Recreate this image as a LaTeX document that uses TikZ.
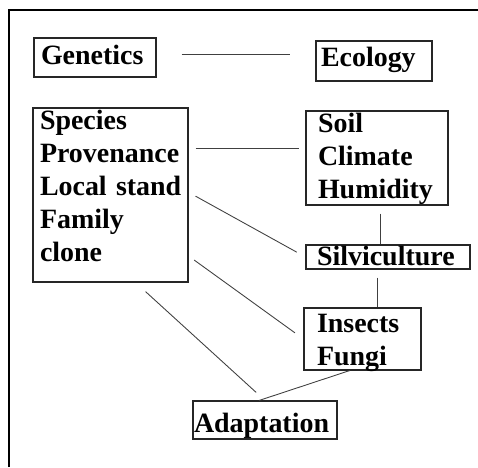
\documentclass[tikz,border=0pt]{standalone}
\usepackage{fontspec}
\setmainfont{Liberation Serif}
\usepackage{tikz}

\begin{document}
\begin{tikzpicture}[
    factor/.style={draw=black!85, line width=0.6pt, inner ysep=0pt, align=left,
      font=\bfseries\fontsize{15.9pt}{18.8pt}\selectfont},
    link/.style={draw=black!75, line width=0.5pt}]
        \useasboundingbox (0, 0) rectangle (9.56, 9.34);
        \draw[line width=0.6pt] (0.18, 0) |- (9.56, 9.14);

        \node[factor, inner xsep=0.14cm, text width=2.16cm, text height=0.52cm, text depth=0.26cm]
          (genetics) at (1.90, 8.19) {Genetics};
        \node[factor, inner xsep=0.10cm, text width=2.12cm, text height=0.50cm, text depth=0.30cm]
          (ecology) at (7.48, 8.12) {Ecology};

        \node[factor, inner xsep=0.14cm, text width=2.82cm, text height=0.42cm, text depth=3.06cm]
          (genotype) at (2.21, 5.44) {Species\\Provenance\\Local~stand\\Family\\clone};
        \node[factor, inner xsep=0.24cm, text width=2.36cm, text height=0.42cm, text depth=1.46cm]
          (site) at (7.54, 6.18) {Soil\\Climate\\Humidity};

        \node[factor, inner xsep=0.22cm, text width=2.84cm, text height=0.40cm, text depth=0.08cm]
          (silviculture) at (7.76, 4.20) {Silviculture};
        \node[factor, inner xsep=0.26cm, text width=1.82cm, text height=0.48cm, text depth=0.76cm]
          (pests) at (7.25, 2.56) {Insects\\Fungi};
        \node[factor, inner xsep=0.02cm, text width=2.84cm, text height=0.62cm, text depth=0.14cm]
          (adaptation) at (5.30, 0.94) {Adaptation};

        \draw[link, shorten <=0.5cm, shorten >=0.5cm] (genetics.3) -- (genetics.3 -| ecology.west);
        \draw[link, shorten <=0.14cm, shorten >=0.12cm] (genotype.31) -- (genotype.31 -| site.west);
        \draw[link, shorten <=0.16cm, shorten >=0.2cm] (genotype.2) -- (silviculture.west);
        \draw[link, shorten <=0.14cm, shorten >=0.21cm] (genotype.-38) -- (pests.west);
        \draw[link, shorten <=0.27cm, shorten >=0.24cm] (genotype.-74) -- (adaptation.north);

        \draw[link, shorten <=0.16cm] (site.-86) -- (site.-86 |- silviculture.north);
        \draw[link, shorten <=0.16cm] (silviculture.-130) -- (silviculture.-130 |- pests.north);
        \draw[link] (pests.-112) -- (adaptation.107);
      \end{tikzpicture}
\end{document}
